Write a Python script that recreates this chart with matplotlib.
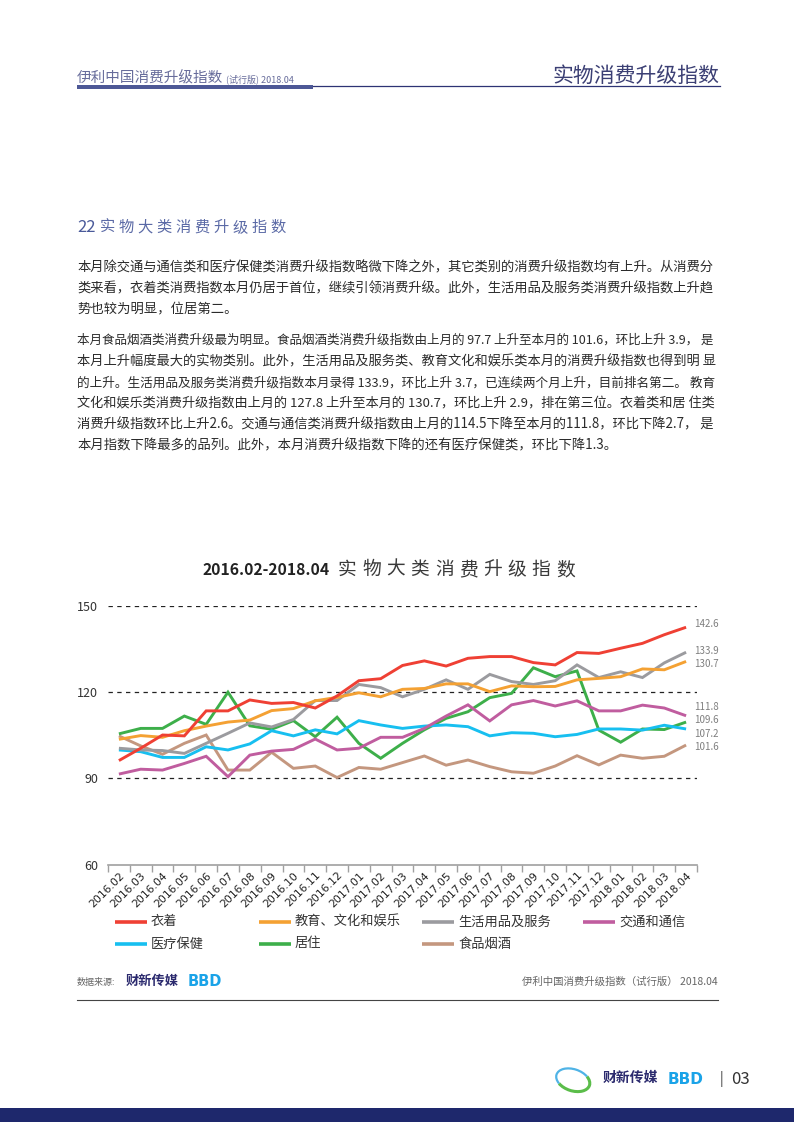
import matplotlib
matplotlib.use("Agg")
import matplotlib.pyplot as plt
from matplotlib.lines import Line2D
from matplotlib.patches import Rectangle, Arc

plt.rcParams['font.family'] = ['Noto Sans CJK SC', 'DejaVu Sans']

W, H = 794, 1122

months = ['2016.02', '2016.03', '2016.04', '2016.05', '2016.06', '2016.07', '2016.08',
          '2016.09', '2016.10', '2016.11', '2016.12', '2017.01', '2017.02', '2017.03',
          '2017.04', '2017.05', '2017.06', '2017.07', '2017.08', '2017.09', '2017.10',
          '2017.11', '2017.12', '2018.01', '2018.02', '2018.03', '2018.04']

clothing = [96.2, 100.5, 105.1, 104.8, 113.5, 113.5, 117.3, 116.1, 116.4, 114.5, 118.7, 124.0, 124.7,
            129.3, 130.9, 129.1, 131.8, 132.4, 132.4, 130.3, 129.5, 133.8, 133.5, 135.3, 137.0, 140.0, 142.6]
education = [103.6, 104.9, 104.3, 106.6, 108.2, 109.6, 110.3, 113.6, 114.3, 117.0, 118.2, 119.8, 118.4,
             121.0, 121.3, 122.9, 122.9, 120.2, 122.2, 121.9, 122.0, 124.3, 124.8, 125.4, 128.1, 127.8, 130.7]
household = [100.5, 99.9, 99.7, 98.7, 102.2, 105.7, 109.3, 107.9, 110.5, 117.1, 117.1, 122.7, 121.6,
             118.4, 121.0, 124.3, 121.0, 126.2, 123.7, 122.7, 124.0, 129.5, 125.1, 127.1, 125.1, 130.2, 133.9]
transport = [91.5, 93.2, 92.9, 95.2, 97.7, 90.6, 98.1, 99.5, 100.1, 103.7, 99.9, 100.5, 104.3,
             104.3, 107.4, 111.7, 115.6, 110.0, 115.6, 117.1, 115.2, 117.0, 113.5, 113.5, 115.5, 114.5, 111.8]
medical = [99.9, 99.3, 97.3, 97.3, 101.0, 99.9, 102.0, 106.6, 104.8, 106.9, 105.5, 110.1, 108.6,
           107.4, 108.2, 108.6, 108.0, 104.8, 105.9, 105.7, 104.5, 105.3, 107.2, 107.2, 106.8, 108.5, 107.2]
housing = [105.5, 107.4, 107.4, 111.7, 108.8, 120.0, 108.3, 107.1, 110.1, 104.5, 111.3, 102.2, 97.0,
           102.2, 106.9, 110.9, 113.2, 118.1, 119.6, 128.5, 125.4, 127.4, 106.8, 102.6, 107.2, 107.0, 109.6]
food = [104.8, 101.3, 98.4, 102.2, 105.1, 92.9, 92.9, 99.1, 93.5, 94.3, 90.3, 93.8, 93.2,
        95.5, 97.8, 94.6, 96.4, 94.1, 92.3, 91.8, 94.3, 97.9, 94.7, 98.1, 97.0, 97.7, 101.6]

names = ['衣着', '教育、文化和娱乐', '生活用品及服务', '交通和通信', '医疗保健', '居住', '食品烟酒']
colors = ['#ef4034', '#f4a133', '#9b9b9f', '#c05d9f', '#17bff0', '#3daf4a', '#c4977f']
series = [clothing, education, household, transport, medical, housing, food]
# where the end-value labels sit (data units), nudged apart like the original
label_y = [143.7, 129.8, 134.3, 114.8, 105.4, 110.3, 100.9]


def fx(x):
    return x / W


def fy(y):
    return 1 - y / H


fig = plt.figure(figsize=(W / 100, H / 100), dpi=100)
renderer = fig.canvas.get_renderer()

# ---- page header ----
fig.text(fx(77), fy(82), '伊利中国消费升级指数', fontsize=10.5, color='#676c9b', va='baseline')
fig.text(fx(226), fy(82), '(试行版) 2018.04', fontsize=6.5, color='#676c9b', va='baseline')
fig.text(fx(720), fy(82), '实物消费升级指数', fontsize=15, color='#3b3f74', ha='right', va='baseline')
fig.add_artist(Line2D([fx(313), fx(720)], [fy(86), fy(86)], color='#2d3374', lw=0.9))
fig.add_artist(Rectangle((fx(77), fy(88.5)), fx(313) - fx(77), 3.0 / H, color='#4d5896', lw=0))

# ---- section title ----
fig.text(fx(77), fy(232), '22', fontsize=12, color='#4a5a9a', va='baseline')
for k, ch in enumerate('实物大类消费升级指数'):
    fig.text(fx(100 + k * 18.9), fy(232), ch, fontsize=11, color='#5b6aa6', va='baseline',
             fontweight='light')

# ---- paragraphs ----
para1 = ['本月除交通与通信类和医疗保健类消费升级指数略微下降之外，其它类别的消费升级指数均有上升。从消费分',
         '类来看，衣着类消费指数本月仍居于首位，继续引领消费升级。此外，生活用品及服务类消费升级指数上升趋',
         '势也较为明显，位居第二。']
para2 = ['本月食品烟酒类消费升级最为明显。食品烟酒类消费升级指数由上月的 97.7 上升至本月的 101.6，环比上升 3.9， 是',
         '本月上升幅度最大的实物类别。此外，生活用品及服务类、教育文化和娱乐类本月的消费升级指数也得到明 显',
         '的上升。生活用品及服务类消费升级指数本月录得 133.9，环比上升 3.7，已连续两个月上升，目前排名第二。 教育',
         '文化和娱乐类消费升级指数由上月的 127.8 上升至本月的 130.7，环比上升 2.9，排在第三位。衣着类和居 住类',
         '消费升级指数环比上升2.6。交通与通信类消费升级指数由上月的114.5下降至本月的111.8，环比下降2.7， 是',
         '本月指数下降最多的品列。此外，本月消费升级指数下降的还有医疗保健类，环比下降1.3。']


def put_para(lines, y0, step):
    for k, line in enumerate(lines):
        t = fig.text(fx(77), fy(y0 + k * step), line, fontsize=9.6, color='#2b2b2b', va='baseline')
        if k < len(lines) - 1:
            w = t.get_window_extent(renderer).width
            if w > 641:
                t.set_fontsize(9.6 * 641 / w)


put_para(para1, 271, 21)
put_para(para2, 344, 21.1)

# ---- chart title ----
fig.text(fx(202), fy(575), '2016.02-2018.04', fontsize=11.3, color='#222222', va='baseline',
         fontweight='bold')
for k, ch in enumerate('实物大类消费升级指数'):
    fig.text(fx(338 + k * 24.2), fy(575), ch, fontsize=13.5, color='#3a3a3a', va='baseline',
             fontweight='light')

# ---- chart ----
ax = fig.add_axes([fx(108), fy(864.6), fx(697) - fx(108), (864.6 - 606) / H])
x = list(range(len(months)))
for vals, c in zip(series[::-1], colors[::-1]):
    ax.plot(x, vals, color=c, lw=2.1, solid_capstyle='butt', solid_joinstyle='miter', zorder=3)

for vals, c, ly in zip(series, colors, label_y):
    ax.annotate(f'{vals[-1]:.1f}', xy=(x[-1], ly), xytext=(6, 0), textcoords='offset points',
                fontsize=7, color='#7f7f7f', va='center', ha='left', annotation_clip=False)

ax.set_xlim(-0.5, len(months) - 0.5)
ax.set_ylim(60, 150)
ax.set_yticks([60, 90, 120, 150])
for v in [90, 120, 150]:
    ax.axhline(v, color='#222222', lw=0.9, ls=(0, (3.5, 3.5)), zorder=1)
for s in ['top', 'right', 'left']:
    ax.spines[s].set_visible(False)
ax.spines['bottom'].set_color('#a0a0a0')
ax.spines['bottom'].set_linewidth(1.2)
ax.tick_params(axis='y', length=0, labelsize=9, labelcolor='#333333', pad=7)
ax.set_xticks([i - 0.5 for i in range(len(months) + 1)], minor=True)
ax.set_xticks(x)
ax.set_xticklabels(months, rotation=45, ha='right', rotation_mode='anchor', fontsize=7.8,
                   color='#222222', family=['DejaVu Sans'])
ax.tick_params(axis='x', which='major', length=0, pad=4)
ax.tick_params(axis='x', which='minor', length=5, color='#a0a0a0', width=1)

# ---- legend (manual, fixed columns like the original) ----
leg_cols = [115, 259, 422, 583]
leg_rows = [922, 944]
for k, name in enumerate(names):
    r, cidx = divmod(k, 4)
    x0, y0 = leg_cols[cidx], leg_rows[r]
    fig.add_artist(Line2D([fx(x0), fx(x0 + 32)], [fy(y0), fy(y0)], color=colors[k], lw=2.6,
                          solid_capstyle='butt'))
    fig.text(fx(x0 + 36), fy(y0), name, fontsize=9.5, color='#333333', va='center')

# ---- footer of chart ----
fig.text(fx(77), fy(982), '数据来源:', fontsize=6.5, color='#666666', va='center')
fig.text(fx(126), fy(981), '财新传媒', fontsize=9.5, color='#2b2a6e', va='center', fontweight='bold')
fig.text(fx(188), fy(982), 'BBD', fontsize=10.5, color='#1aa3e8', va='center', fontweight='bold',
         family=['DejaVu Sans'])
fig.text(fx(718), fy(982), '伊利中国消费升级指数（试行版） 2018.04', fontsize=7.5, color='#666666',
         ha='right', va='center')
fig.add_artist(Line2D([fx(77), fx(718)], [fy(1000), fy(1000)], color='#444444', lw=0.8))

# ---- page footer ----
fig.add_artist(Arc((fx(573), fy(1080)), 34 / W, 22 / H, angle=-10, theta1=200, theta2=20,
                   color='#5bbd4a', lw=2.2))
fig.add_artist(Arc((fx(573), fy(1080)), 34 / W, 22 / H, angle=-10, theta1=20, theta2=200,
                   color='#4fb3e6', lw=1.6))
fig.text(fx(603), fy(1078), '财新传媒', fontsize=10, color='#2b2a6e', va='center', fontweight='bold')
fig.text(fx(668), fy(1079), 'BBD', fontsize=11, color='#1aa3e8', va='center', fontweight='bold',
         family=['DejaVu Sans'])
fig.text(fx(720), fy(1079), '|', fontsize=10, color='#333333', va='center')
fig.text(fx(731), fy(1079), '03', fontsize=12, color='#333333', va='center')
fig.add_artist(Rectangle((0, 0), 1, 14 / H, color='#1e286c', lw=0))

fig.savefig('out.png', dpi=100)
